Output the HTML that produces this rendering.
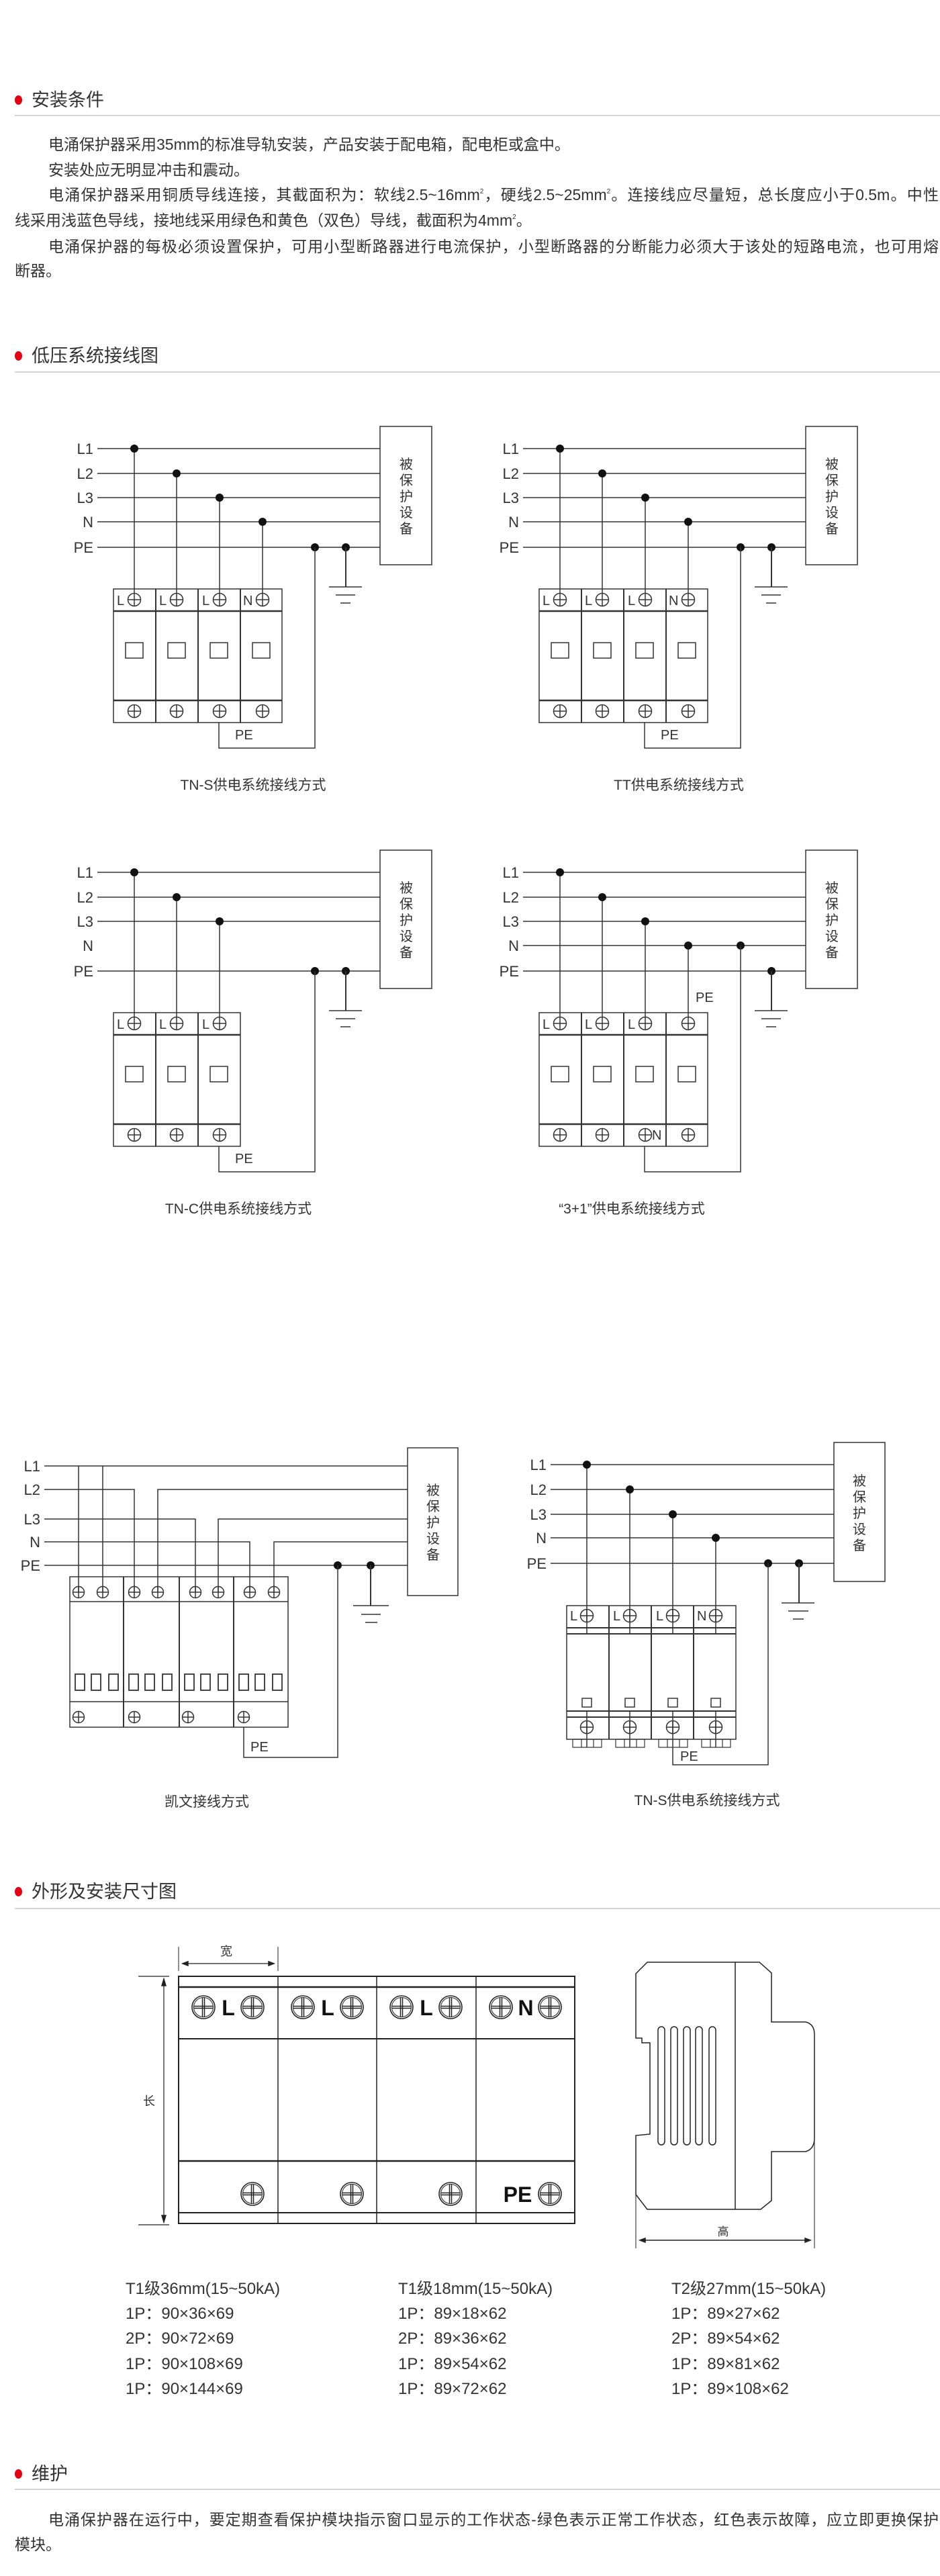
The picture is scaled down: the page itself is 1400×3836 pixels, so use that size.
<!DOCTYPE html>
<html><head><meta charset="utf-8">
<style>
html,body{margin:0;padding:0;background:#fff;}
body{width:1400px;height:3836px;position:relative;overflow:hidden;font-family:"Liberation Sans","Noto Sans CJK SC",sans-serif;color:#333;}
.h{position:absolute;left:47px;font-size:27px;line-height:34px;color:#333;}
.dot{position:absolute;left:22px;width:11px;height:14px;border-radius:50%;background:#e60012;}
.rule{position:absolute;left:22px;width:1378px;height:2px;background:#d4d4d4;}
.t{position:absolute;font-size:23px;line-height:30px;white-space:nowrap;color:#333;}
.j{text-align:justify;text-align-last:justify;white-space:normal;}
sup{font-size:10px;vertical-align:10px;line-height:0;}
svg{position:absolute;left:0;top:0;}
</style></head><body>

<div class="dot" style="top:142px"></div>
<div class="h" style="top:132px">安装条件</div>
<div class="rule" style="top:171px"></div>
<div class="t" style="left:72px;top:200px">电涌保护器采用35mm的标准导轨安装，产品安装于配电箱，配电柜或盒中。</div>
<div class="t" style="left:72px;top:238px">安装处应无明显冲击和震动。</div>
<div class="t j" style="left:72px;width:1326px;top:275px">电涌保护器采用铜质导线连接，其截面积为：软线2.5~16mm<sup>2</sup>，硬线2.5~25mm<sup>2</sup>。连接线应尽量短，总长度应小于0.5m。中性</div>
<div class="t" style="left:22px;top:313px">线采用浅蓝色导线，接地线采用绿色和黄色（双色）导线，截面积为4mm<sup>2</sup>。</div>
<div class="t j" style="left:72px;width:1326px;top:352px">电涌保护器的每极必须设置保护，可用小型断路器进行电流保护，小型断路器的分断能力必须大于该处的短路电流，也可用熔</div>
<div class="t" style="left:22px;top:388px">断器。</div>

<div class="dot" style="top:523px"></div>
<div class="h" style="top:513px">低压系统接线图</div>
<div class="rule" style="top:553px"></div>

<div class="dot" style="top:2810px"></div>
<div class="h" style="top:2800px">外形及安装尺寸图</div>
<div class="rule" style="top:2841px"></div>

<div class="t" style="left:187px;top:3394px;font-size:24px">T1级36mm(15~50kA)</div>
<div class="t" style="left:187px;top:3431px;font-size:24px">1P：90×36×69</div>
<div class="t" style="left:187px;top:3468px;font-size:24px">2P：90×72×69</div>
<div class="t" style="left:187px;top:3506px;font-size:24px">1P：90×108×69</div>
<div class="t" style="left:187px;top:3543px;font-size:24px">1P：90×144×69</div>
<div class="t" style="left:593px;top:3394px;font-size:24px">T1级18mm(15~50kA)</div>
<div class="t" style="left:593px;top:3431px;font-size:24px">1P：89×18×62</div>
<div class="t" style="left:593px;top:3468px;font-size:24px">2P：89×36×62</div>
<div class="t" style="left:593px;top:3506px;font-size:24px">1P：89×54×62</div>
<div class="t" style="left:593px;top:3543px;font-size:24px">1P：89×72×62</div>
<div class="t" style="left:1000px;top:3394px;font-size:24px">T2级27mm(15~50kA)</div>
<div class="t" style="left:1000px;top:3431px;font-size:24px">1P：89×27×62</div>
<div class="t" style="left:1000px;top:3468px;font-size:24px">2P：89×54×62</div>
<div class="t" style="left:1000px;top:3506px;font-size:24px">1P：89×81×62</div>
<div class="t" style="left:1000px;top:3543px;font-size:24px">1P：89×108×62</div>

<div class="dot" style="top:3677px"></div>
<div class="h" style="top:3667px">维护</div>
<div class="rule" style="top:3706px"></div>
<div class="t j" style="left:72px;width:1326px;top:3737px">电涌保护器在运行中，要定期查看保护模块指示窗口显示的工作状态-绿色表示正常工作状态，红色表示故障，应立即更换保护</div>
<div class="t" style="left:22px;top:3774px">模块。</div>

<svg width="1400" height="3836" viewBox="0 0 1400 3836" xmlns="http://www.w3.org/2000/svg" font-family="Liberation Sans, Noto Sans CJK SC, sans-serif" fill="none" stroke="#333" stroke-width="1.5">
<defs>
<g id="sc"><circle cx="0" cy="0" r="9.5"/><line x1="-9.5" y1="0" x2="9.5" y2="0"/><line x1="0" y1="-9.5" x2="0" y2="9.5"/></g>
<g id="sc9"><circle cx="0" cy="0" r="8.5"/><line x1="-8.5" y1="0" x2="8.5" y2="0"/><line x1="0" y1="-8.5" x2="0" y2="8.5"/></g>
<g id="big"><circle r="17" stroke-width="1.6"/><circle r="14.5" stroke-width="1"/><line x1="-14" y1="-1.5" x2="14" y2="-1.5"/><line x1="-14" y1="1.5" x2="14" y2="1.5"/><line x1="-1.5" y1="-14" x2="-1.5" y2="14"/><line x1="1.5" y1="-14" x2="1.5" y2="14"/></g>
<g id="box">
 <rect x="566" y="635" width="77" height="206"/>
 <g fill="#333" stroke="none" font-size="20" text-anchor="middle"><text x="605" y="698">被</text><text x="605" y="722">保</text><text x="605" y="746">护</text><text x="605" y="770">设</text><text x="605" y="794">备</text></g>
 <g fill="#333" stroke="none" font-size="22" text-anchor="end"><text x="139" y="676">L1</text><text x="139" y="713">L2</text><text x="139" y="749">L3</text><text x="139" y="785">N</text><text x="139" y="823">PE</text></g>
</g>
<g id="gnd"><line x1="0" y1="0" x2="0" y2="59" stroke-width="2"/><line x1="-25" y1="59" x2="24" y2="59"/><line x1="-15" y1="71" x2="14" y2="71"/><line x1="-8" y1="83" x2="7" y2="83"/></g>
<g id="mod4">
 <rect x="169" y="877" width="251" height="199"/>
 <line x1="169" y1="910" x2="420" y2="910" stroke-width="2.5"/>
 <line x1="169" y1="1043" x2="420" y2="1043" stroke-width="2.5"/>
 <line x1="232" y1="877" x2="232" y2="1076" stroke-width="2"/><line x1="295" y1="877" x2="295" y2="1076" stroke-width="2"/><line x1="358" y1="877" x2="358" y2="1076" stroke-width="2"/>
 <rect x="187" y="957" width="26" height="23"/><rect x="250" y="957" width="26" height="23"/><rect x="313" y="957" width="26" height="23"/><rect x="376" y="957" width="26" height="23"/>
 <use href="#sc" x="200" y="1059"/><use href="#sc" x="263" y="1059"/><use href="#sc" x="327" y="1059"/><use href="#sc" x="391" y="1059"/>
 <use href="#sc" x="200" y="893"/><use href="#sc" x="263" y="893"/><use href="#sc" x="327" y="893"/><use href="#sc" x="391" y="893"/>
</g>
<g id="d1">
 <line x1="145" y1="668" x2="566" y2="668"/><line x1="145" y1="705" x2="566" y2="705"/><line x1="145" y1="741" x2="566" y2="741"/><line x1="145" y1="777" x2="566" y2="777"/><line x1="145" y1="815" x2="566" y2="815"/>
 <use href="#box"/>
 <line x1="200" y1="668" x2="200" y2="884"/><line x1="263" y1="705" x2="263" y2="884"/><line x1="327" y1="741" x2="327" y2="884"/><line x1="391" y1="777" x2="391" y2="884"/>
 <g fill="#111" stroke="none"><circle cx="200" cy="668" r="6"/><circle cx="263" cy="705" r="6"/><circle cx="327" cy="741" r="6"/><circle cx="391" cy="777" r="6"/><circle cx="469" cy="815" r="6"/><circle cx="515" cy="815" r="6"/></g>
 <use href="#gnd" x="515" y="815"/>
 <polyline points="326,1076 326,1114 469,1114 469,815"/>
 <use href="#mod4"/>
 <g fill="#333" stroke="none" font-size="20"><text x="174" y="901">L</text><text x="237" y="901">L</text><text x="301" y="901">L</text><text x="362" y="901">N</text><text x="350" y="1101">PE</text></g>
</g>
</defs>

<!-- TN-S -->
<use href="#d1"/>
<text x="377" y="1176" fill="#333" stroke="none" font-size="21" text-anchor="middle">TN-S供电系统接线方式</text>
<!-- TT -->
<use href="#d1" x="634"/>
<text x="1011" y="1176" fill="#333" stroke="none" font-size="21" text-anchor="middle">TT供电系统接线方式</text>

<!-- TN-C -->
<g transform="translate(0,631)">
 <line x1="145" y1="668" x2="566" y2="668"/><line x1="145" y1="705" x2="566" y2="705"/><line x1="145" y1="741" x2="566" y2="741"/><line x1="145" y1="815" x2="566" y2="815"/>
 <use href="#box"/>
 <line x1="200" y1="668" x2="200" y2="884"/><line x1="263" y1="705" x2="263" y2="884"/><line x1="327" y1="741" x2="327" y2="884"/>
 <g fill="#111" stroke="none"><circle cx="200" cy="668" r="6"/><circle cx="263" cy="705" r="6"/><circle cx="327" cy="741" r="6"/><circle cx="469" cy="815" r="6"/><circle cx="515" cy="815" r="6"/></g>
 <use href="#gnd" x="515" y="815"/>
 <polyline points="326,1076 326,1114 469,1114 469,815"/>
 <rect x="169" y="877" width="189" height="199"/>
 <line x1="169" y1="910" x2="358" y2="910" stroke-width="2.5"/><line x1="169" y1="1043" x2="358" y2="1043" stroke-width="2.5"/>
 <line x1="232" y1="877" x2="232" y2="1076" stroke-width="2"/><line x1="295" y1="877" x2="295" y2="1076" stroke-width="2"/>
 <rect x="187" y="957" width="26" height="23"/><rect x="250" y="957" width="26" height="23"/><rect x="313" y="957" width="26" height="23"/>
 <use href="#sc" x="200" y="1059"/><use href="#sc" x="263" y="1059"/><use href="#sc" x="327" y="1059"/>
 <use href="#sc" x="200" y="893"/><use href="#sc" x="263" y="893"/><use href="#sc" x="327" y="893"/>
 <g fill="#333" stroke="none" font-size="20"><text x="174" y="901">L</text><text x="237" y="901">L</text><text x="301" y="901">L</text><text x="350" y="1101">PE</text></g>
 <text x="355" y="1176" fill="#333" stroke="none" font-size="21" text-anchor="middle">TN-C供电系统接线方式</text>
</g>

<!-- 3+1 -->
<g transform="translate(634,631)">
 <line x1="145" y1="668" x2="566" y2="668"/><line x1="145" y1="705" x2="566" y2="705"/><line x1="145" y1="741" x2="566" y2="741"/><line x1="145" y1="777" x2="566" y2="777"/><line x1="145" y1="815" x2="566" y2="815"/>
 <use href="#box"/>
 <line x1="200" y1="668" x2="200" y2="884"/><line x1="263" y1="705" x2="263" y2="884"/><line x1="327" y1="741" x2="327" y2="884"/><line x1="391" y1="777" x2="391" y2="884"/>
 <g fill="#111" stroke="none"><circle cx="200" cy="668" r="6"/><circle cx="263" cy="705" r="6"/><circle cx="327" cy="741" r="6"/><circle cx="391" cy="777" r="6"/><circle cx="469" cy="777" r="6"/><circle cx="515" cy="815" r="6"/></g>
 <use href="#gnd" x="515" y="815"/>
 <polyline points="326,1076 326,1114 469,1114 469,777"/>
 <use href="#mod4"/>
 <g fill="#333" stroke="none" font-size="20"><text x="174" y="901">L</text><text x="237" y="901">L</text><text x="301" y="901">L</text><text x="337" y="1066">N</text><text x="402" y="861">PE</text></g>
 <text x="307" y="1176" fill="#333" stroke="none" font-size="21" text-anchor="middle">“3+1”供电系统接线方式</text>
</g>

<!-- Kevin -->
<g>
 <line x1="66" y1="2183" x2="607" y2="2183"/>
 <polyline points="66,2218 200,2218 200,2371"/><polyline points="607,2218 235,2218 235,2371"/>
 <polyline points="66,2262 291,2262 291,2371"/><polyline points="607,2262 325,2262 325,2371"/>
 <polyline points="66,2296 372,2296 372,2371"/><polyline points="607,2296 408,2296 408,2371"/>
 <line x1="66" y1="2331" x2="607" y2="2331"/>
 <line x1="117" y1="2183" x2="117" y2="2371"/><line x1="153" y1="2183" x2="153" y2="2371"/>
 <rect x="607" y="2156" width="75" height="220"/>
 <g fill="#333" stroke="none" font-size="20" text-anchor="middle"><text x="645" y="2226">被</text><text x="645" y="2250">保</text><text x="645" y="2274">护</text><text x="645" y="2298">设</text><text x="645" y="2322">备</text></g>
 <g fill="#333" stroke="none" font-size="22" text-anchor="end"><text x="60" y="2191">L1</text><text x="60" y="2226">L2</text><text x="60" y="2270">L3</text><text x="60" y="2304">N</text><text x="60" y="2339">PE</text></g>
 <g fill="#111" stroke="none"><circle cx="503" cy="2331" r="6"/><circle cx="552" cy="2331" r="6"/></g>
 <line x1="552" y1="2331" x2="552" y2="2391" stroke-width="2"/><line x1="526" y1="2391" x2="579" y2="2391"/><line x1="538" y1="2404" x2="567" y2="2404"/><line x1="544" y1="2416" x2="562" y2="2416"/>
 <rect x="104" y="2348" width="325" height="224"/>
 <line x1="104" y1="2385" x2="429" y2="2385"/><line x1="104" y1="2534" x2="429" y2="2534"/>
 <line x1="184" y1="2348" x2="184" y2="2572" stroke-width="2"/><line x1="267" y1="2348" x2="267" y2="2572" stroke-width="2"/><line x1="348" y1="2348" x2="348" y2="2572" stroke-width="2"/>
 <use href="#sc9" x="117" y="2371"/><use href="#sc9" x="153" y="2371"/><use href="#sc9" x="200" y="2371"/><use href="#sc9" x="235" y="2371"/><use href="#sc9" x="291" y="2371"/><use href="#sc9" x="325" y="2371"/><use href="#sc9" x="372" y="2371"/><use href="#sc9" x="408" y="2371"/>
 <use href="#sc9" x="117" y="2557"/><use href="#sc9" x="200" y="2557"/><use href="#sc9" x="280" y="2557"/><use href="#sc9" x="363" y="2557"/>
 <g stroke-width="1.8">
 <rect x="112" y="2493" width="14" height="24"/><rect x="136" y="2493" width="14" height="24"/><rect x="162" y="2493" width="14" height="24"/>
 <rect x="192" y="2493" width="14" height="24"/><rect x="216" y="2493" width="14" height="24"/><rect x="242" y="2493" width="14" height="24"/>
 <rect x="275" y="2493" width="14" height="24"/><rect x="299" y="2493" width="14" height="24"/><rect x="325" y="2493" width="14" height="24"/>
 <rect x="356" y="2493" width="14" height="24"/><rect x="380" y="2493" width="14" height="24"/><rect x="406" y="2493" width="14" height="24"/>
 </g>
 <polyline points="363,2572 363,2617 503,2617 503,2331"/>
 <text x="373" y="2608" fill="#333" stroke="none" font-size="20">PE</text>
 <text x="308" y="2690" fill="#333" stroke="none" font-size="21" text-anchor="middle">凯文接线方式</text>
</g>

<!-- TN-S 2 -->
<g>
 <line x1="820" y1="2181" x2="1242" y2="2181"/><line x1="820" y1="2218" x2="1242" y2="2218"/><line x1="820" y1="2255" x2="1242" y2="2255"/><line x1="820" y1="2290" x2="1242" y2="2290"/><line x1="820" y1="2328" x2="1242" y2="2328"/>
 <rect x="1242" y="2148" width="76" height="207"/>
 <g fill="#333" stroke="none" font-size="20" text-anchor="middle"><text x="1280" y="2212">被</text><text x="1280" y="2236">保</text><text x="1280" y="2260">护</text><text x="1280" y="2284">设</text><text x="1280" y="2308">备</text></g>
 <g fill="#333" stroke="none" font-size="22" text-anchor="end"><text x="814" y="2189">L1</text><text x="814" y="2226">L2</text><text x="814" y="2263">L3</text><text x="814" y="2298">N</text><text x="814" y="2336">PE</text></g>
 <line x1="874" y1="2181" x2="874" y2="2433"/><line x1="938" y1="2218" x2="938" y2="2433"/><line x1="1002" y1="2255" x2="1002" y2="2433"/><line x1="1066" y1="2290" x2="1066" y2="2433"/>
 <line x1="874" y1="2548" x2="874" y2="2602"/><line x1="938" y1="2548" x2="938" y2="2602"/><line x1="1002" y1="2548" x2="1002" y2="2602"/><line x1="1066" y1="2548" x2="1066" y2="2602"/>
 <g fill="#111" stroke="none"><circle cx="874" cy="2181" r="6"/><circle cx="938" cy="2218" r="6"/><circle cx="1002" cy="2255" r="6"/><circle cx="1066" cy="2290" r="6"/><circle cx="1144" cy="2328" r="6"/><circle cx="1190" cy="2328" r="6"/></g>
 <line x1="1190" y1="2328" x2="1190" y2="2387" stroke-width="2"/><line x1="1164" y1="2387" x2="1213" y2="2387"/><line x1="1174" y1="2399" x2="1204" y2="2399"/><line x1="1181" y1="2411" x2="1197" y2="2411"/>
 <rect x="844" y="2391" width="252" height="199"/>
 <line x1="844" y1="2424" x2="1096" y2="2424" stroke-width="2"/><line x1="844" y1="2433" x2="1096" y2="2433" stroke-width="2"/>
 <line x1="844" y1="2548" x2="1096" y2="2548" stroke-width="2"/><line x1="844" y1="2557" x2="1096" y2="2557" stroke-width="2"/>
 <line x1="907" y1="2391" x2="907" y2="2590" stroke-width="2"/><line x1="970" y1="2391" x2="970" y2="2590" stroke-width="2"/><line x1="1033" y1="2391" x2="1033" y2="2590" stroke-width="2"/>
 <use href="#sc" x="874" y="2406"/><use href="#sc" x="938" y="2406"/><use href="#sc" x="1002" y="2406"/><use href="#sc" x="1066" y="2406"/>
 <use href="#sc" x="874" y="2572"/><use href="#sc" x="938" y="2572"/><use href="#sc" x="1002" y="2572"/><use href="#sc" x="1066" y="2572"/>
 <rect x="867" y="2529" width="14" height="13"/><rect x="931" y="2529" width="14" height="13"/><rect x="995" y="2529" width="14" height="13"/><rect x="1059" y="2529" width="14" height="13"/>
 <g stroke-width="1.2">
 <rect x="853" y="2590" width="43" height="12"/><line x1="866" y1="2590" x2="866" y2="2602"/><line x1="884" y1="2590" x2="884" y2="2602"/>
 <rect x="917" y="2590" width="43" height="12"/><line x1="930" y1="2590" x2="930" y2="2602"/><line x1="948" y1="2590" x2="948" y2="2602"/>
 <rect x="981" y="2590" width="43" height="12"/><line x1="994" y1="2590" x2="994" y2="2602"/><line x1="1012" y1="2590" x2="1012" y2="2602"/>
 <rect x="1045" y="2590" width="43" height="12"/><line x1="1058" y1="2590" x2="1058" y2="2602"/><line x1="1076" y1="2590" x2="1076" y2="2602"/>
 </g>
 <polyline points="1002,2602 1002,2628 1144,2628 1144,2328"/>
 <g fill="#333" stroke="none" font-size="20"><text x="849" y="2413">L</text><text x="913" y="2413">L</text><text x="977" y="2413">L</text><text x="1038" y="2413">N</text><text x="1013" y="2622">PE</text></g>
 <text x="1053" y="2688" fill="#333" stroke="none" font-size="21" text-anchor="middle">TN-S供电系统接线方式</text>
</g>

<!-- Front view -->
<g stroke="#222">
 <rect x="266" y="2943" width="590" height="368" stroke-width="2"/>
 <line x1="266" y1="2959" x2="856" y2="2959" stroke-width="2.5"/>
 <line x1="266" y1="3036" x2="856" y2="3036" stroke-width="2"/>
 <line x1="266" y1="3218" x2="856" y2="3218" stroke-width="2.5"/>
 <line x1="266" y1="3295" x2="856" y2="3295" stroke-width="2"/>
 <line x1="414" y1="2943" x2="414" y2="3311"/><line x1="561" y1="2943" x2="561" y2="3311"/><line x1="709" y1="2943" x2="709" y2="3311"/>
 <use href="#big" x="303" y="2989"/><use href="#big" x="376" y="2989"/>
 <use href="#big" x="451" y="2989"/><use href="#big" x="524" y="2989"/>
 <use href="#big" x="598" y="2989"/><use href="#big" x="671" y="2989"/>
 <use href="#big" x="746" y="2989"/><use href="#big" x="819" y="2989"/>
 <use href="#big" x="376" y="3267"/><use href="#big" x="524" y="3267"/><use href="#big" x="671" y="3267"/><use href="#big" x="819" y="3267"/>
 <g fill="#111" stroke="none" font-size="32" font-weight="bold" text-anchor="middle"><text x="340" y="3001">L</text><text x="488" y="3001">L</text><text x="635" y="3001">L</text><text x="783" y="3001">N</text><text x="771" y="3279">PE</text></g>
 <line x1="266" y1="2899" x2="266" y2="2935" stroke-width="1"/><line x1="414" y1="2899" x2="414" y2="2935" stroke-width="1"/>
 <line x1="272" y1="2924" x2="408" y2="2924" stroke-width="1.2"/>
 <path d="M272,2924 l8,-3 v6 z M408,2924 l-8,-3 v6 z" fill="#222"/>
 <text x="337" y="2912" fill="#333" stroke="none" font-size="18" text-anchor="middle">宽</text>
 <line x1="206" y1="2943" x2="252" y2="2943" stroke-width="1.2"/><line x1="206" y1="3313" x2="252" y2="3313" stroke-width="1.2"/>
 <line x1="244" y1="2947" x2="244" y2="3309" stroke-width="1.2"/>
 <path d="M244,2947 l-3,10 h6 z M244,3309 l-3,-10 h6 z" fill="#222"/>
 <text x="222" y="3135" fill="#333" stroke="none" font-size="18" text-anchor="middle">长</text>
</g>

<!-- Side view -->
<g stroke="#222" stroke-width="1.5">
 <path d="M964,2922 L1131,2922 L1149,2938 L1149,3011 L1200,3011 Q1213,3014 1213,3030 L1213,3184 Q1213,3200 1200,3204 L1149,3204 L1149,3277 L1133,3290 L964,3290 L947,3268 L947,3180 L968,3178 L968,3042 L956,3042 L956,3035 L947,3035 L947,2939 Z"/>
 <line x1="1095" y1="2922" x2="1095" y2="3290"/>
 <rect x="980" y="3018" width="10" height="176" rx="5"/><rect x="999" y="3018" width="10" height="176" rx="5"/><rect x="1018" y="3018" width="10" height="176" rx="5"/><rect x="1036" y="3018" width="10" height="176" rx="5"/><rect x="1056" y="3018" width="10" height="176" rx="5"/>
 <line x1="947" y1="3268" x2="947" y2="3348" stroke-width="1"/><line x1="1213" y1="3184" x2="1213" y2="3348" stroke-width="1"/>
 <line x1="953" y1="3336" x2="1207" y2="3336" stroke-width="1.5"/>
 <path d="M953,3336 l8,-3 v6 z M1207,3336 l-8,-3 v6 z" fill="#222"/>
 <text x="1077" y="3329" fill="#333" stroke="none" font-size="17" text-anchor="middle">高</text>
</g>
</svg>
</body></html>
